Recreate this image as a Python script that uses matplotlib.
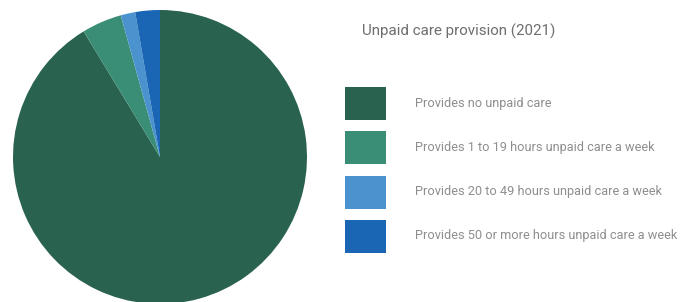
import matplotlib.pyplot as plt
from matplotlib.patches import Rectangle

plt.rcParams['font.family'] = ['Roboto', 'DejaVu Sans']

# data (percent of people, 2021)
categories = [
    'Provides no unpaid care',
    'Provides 1 to 19 hours unpaid care a week',
    'Provides 20 to 49 hours unpaid care a week',
    'Provides 50 or more hours unpaid care a week',
]
shares = [91.3, 4.4, 1.6, 2.7]
colours = ['#2a6250', '#3a8e76', '#4b93ce', '#1a66b4']

W, H = 688, 302
fig = plt.figure(figsize=(W / 100, H / 100), dpi=100)

# pie
ax = fig.add_axes([13 / W, (H - 304) / H, 294 / W, 294 / H])
ax.pie(shares, colors=colours, startangle=90, counterclock=False,
       radius=1, wedgeprops=dict(linewidth=0))
ax.set_xlim(-1, 1)
ax.set_ylim(-1, 1)
ax.set_aspect('equal')
ax.axis('off')

# title
fig.text(362 / W, 1 - 31 / H, 'Unpaid care provision (2021)', fontsize=10.9,
         color='#6e6e6e', va='center', ha='left')

# legend
top0 = 87
step = 44.3
for i, (lab, col) in enumerate(zip(categories, colours)):
    y_top = top0 + i * step
    fig.add_artist(Rectangle((345 / W, 1 - (y_top + 33) / H), 41 / W, 33 / H,
                             transform=fig.transFigure, facecolor=col,
                             edgecolor='none'))
    fig.text(415 / W, 1 - (y_top + 16) / H, lab, fontsize=9.2,
             color='#8e8e8e', va='center', ha='left')

fig.savefig('out.png', dpi=100)
